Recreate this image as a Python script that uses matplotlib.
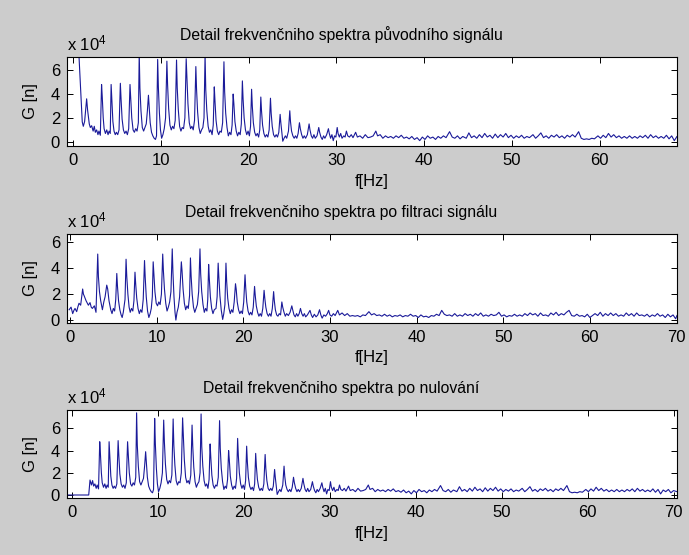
import numpy as np
import matplotlib
matplotlib.use("Agg")
import matplotlib.pyplot as plt

plt.rcParams['font.family'] = ['Liberation Sans', 'DejaVu Sans']
plt.rcParams['mathtext.fontset'] = 'custom'
plt.rcParams['mathtext.rm'] = 'Liberation Sans'
plt.rcParams['mathtext.default'] = 'regular'

# spectrum of the original signal, (f [Hz], G [x1e4])
orig_pts = [
    (-0.5, 30.0), (0.0, 28.0), (0.4, 12.0), (0.68, 7.3), (0.91, 3.9), (1.06, 1.67), (1.18, 1.3), (1.33, 1.7),
    (1.56, 3.6), (1.67, 2.65), (1.86, 1.5), (1.98, 1.2), (2.13, 1.35), (2.3, 0.9), (2.43, 1.3), (2.55, 0.8),
    (2.7, 1.0), (2.85, 0.6), (2.96, 0.9), (3.12, 0.55),
    (3.26, 4.8), (3.34, 3.75), (3.45, 2.0), (3.55, 1.1), (3.7, 0.7), (3.85, 1.0), (4.0, 0.6), (4.12, 0.9), (4.25, 0.7),
    (4.35, 4.8), (4.43, 3.6), (4.55, 1.7), (4.68, 0.9), (4.82, 0.6), (4.95, 0.8), (5.1, 0.6), (5.25, 1.0),
    (5.4, 4.9), (5.48, 3.6), (5.6, 1.9), (5.75, 1.0), (5.9, 0.7), (6.05, 0.9), (6.2, 0.6), (6.35, 1.1),
    (6.5, 4.8), (6.58, 3.7), (6.7, 2.0), (6.85, 1.0), (7.0, 0.8), (7.15, 1.1), (7.3, 0.9), (7.45, 1.6),
    (7.55, 7.4), (7.63, 4.5), (7.75, 2.6), (7.9, 1.2), (8.05, 0.9), (8.2, 1.2), (8.35, 1.5), (8.48, 2.6),
    (8.6, 3.9), (8.68, 3.0), (8.8, 1.6), (8.95, 0.8), (9.1, 0.5), (9.25, 0.3), (9.4, 0.2), (9.52, 0.5),
    (9.65, 6.9), (9.73, 4.6), (9.85, 2.4), (9.97, 1.0), (10.1, 0.3), (10.25, 0.6), (10.4, 1.1), (10.55, 2.0),
    (10.7, 6.75), (10.78, 4.8), (10.9, 2.8), (11.05, 1.4), (11.2, 1.0), (11.35, 1.3), (11.5, 1.1), (11.65, 1.8),
    (11.8, 6.85), (11.88, 4.5), (12.0, 2.7), (12.15, 1.3), (12.3, 0.9), (12.45, 1.2), (12.6, 1.1), (12.75, 2.0),
    (12.9, 6.95), (12.98, 5.5), (13.1, 3.2), (13.25, 1.6), (13.4, 1.1), (13.55, 1.3), (13.7, 1.0), (13.85, 1.8),
    (14.0, 6.3), (14.08, 4.4), (14.2, 2.5), (14.35, 1.2), (14.5, 0.7), (14.65, 1.0), (14.8, 1.2), (14.93, 2.0),
    (15.05, 7.3), (15.13, 4.35), (15.25, 2.6), (15.4, 1.3), (15.55, 0.8), (15.7, 1.0), (15.85, 0.6), (15.98, 1.4),
    (16.1, 4.6), (16.18, 3.4), (16.3, 1.8), (16.45, 0.9), (16.6, 0.6), (16.75, 0.9), (16.9, 0.8), (17.05, 1.6),
    (17.2, 6.7), (17.28, 4.2), (17.4, 2.4), (17.55, 1.2), (17.7, 0.5), (17.85, 0.8), (18.0, 0.6), (18.13, 1.4),
    (18.25, 4.0), (18.33, 3.2), (18.45, 1.7), (18.6, 0.9), (18.75, 0.5), (18.9, 0.8), (19.05, 0.6), (19.18, 1.5),
    (19.3, 5.1), (19.38, 3.6), (19.5, 2.0), (19.65, 1.0), (19.8, 0.6), (19.95, 0.9), (20.1, 0.5), (20.23, 1.3),
    (20.35, 4.4), (20.43, 3.0), (20.55, 1.6), (20.7, 0.8), (20.85, 0.5), (21.0, 0.7), (21.15, 0.4), (21.28, 1.0),
    (21.4, 3.75), (21.48, 2.6), (21.6, 1.4), (21.75, 0.7), (21.9, 0.4), (22.05, 0.6), (22.2, 0.4), (22.35, 1.0),
    (22.5, 3.65), (22.58, 2.4), (22.7, 1.3), (22.85, 0.6), (23.0, 0.4), (23.15, 0.6), (23.3, 0.4), (23.45, 0.8),
    (23.6, 2.3), (23.68, 1.6), (23.8, 0.8), (23.9, 0.05), (24.05, 0.3), (24.2, 0.5), (24.35, 0.3), (24.55, 0.9),
    (24.7, 2.6), (24.78, 1.7), (24.9, 0.9), (25.05, 0.5), (25.2, 0.3), (25.35, 0.5), (25.5, 0.3), (25.65, 0.7),
    (25.8, 1.6), (25.9, 1.1), (26.05, 0.6), (26.2, 0.3), (26.35, 0.5), (26.5, 0.3), (26.7, 0.6),
    (26.9, 1.5), (27.0, 1.0), (27.15, 0.5), (27.3, 0.3), (27.45, 0.6), (27.6, 0.3), (27.8, 0.5),
    (28.0, 1.2), (28.1, 0.8), (28.25, 0.4), (28.4, 0.2), (28.55, 0.5), (28.7, 0.3), (28.9, 0.6),
    (29.1, 1.1), (29.2, 0.7), (29.35, 0.3), (29.5, 0.6), (29.65, 0.1), (29.8, 0.5), (29.95, 0.4),
    (30.1, 1.2), (30.2, 0.7), (30.35, 0.4), (30.5, 0.7), (30.65, 0.3), (30.85, 0.5), (31.0, 0.4),
    (31.15, 0.9), (31.3, 0.5), (31.5, 0.4), (31.7, 0.6), (31.9, 0.35), (32.2, 0.8), (32.4, 0.4), (32.7, 0.5),
    (33.0, 0.3), (33.3, 0.6), (33.6, 0.35), (33.9, 0.4), (34.2, 0.5), (34.5, 0.9), (34.7, 0.5), (35.0, 0.6),
    (35.3, 0.3), (35.6, 0.5), (35.9, 0.35), (36.2, 0.45), (36.5, 0.3), (36.8, 0.5), (37.1, 0.35), (37.4, 0.55),
    (37.7, 0.3), (38.0, 0.4), (38.3, 0.25), (38.6, 0.45), (38.9, 0.2), (39.2, 0.35), (39.5, 0.1), (39.8, 0.4),
    (40.1, 0.2), (40.4, 0.5), (40.7, 0.3), (41.0, 0.4), (41.3, 0.2), (41.6, 0.45), (41.9, 0.3), (42.2, 0.5),
    (42.5, 0.35), (42.9, 0.85), (43.2, 0.4), (43.5, 0.3), (43.8, 0.5), (44.1, 0.25), (44.4, 0.45), (44.8, 0.3),
    (45.1, 0.75), (45.4, 0.35), (45.7, 0.5), (46.0, 0.3), (46.3, 0.6), (46.6, 0.35), (46.9, 0.7), (47.2, 0.4),
    (47.5, 0.55), (47.8, 0.3), (48.1, 0.65), (48.4, 0.35), (48.7, 0.6), (49.0, 0.4), (49.3, 0.7), (49.6, 0.35),
    (49.9, 0.55), (50.2, 0.3), (50.5, 0.5), (50.8, 0.35), (51.1, 0.55), (51.4, 0.3), (51.7, 0.45), (52.0, 0.35),
    (52.4, 0.6), (52.7, 0.3), (53.0, 0.5), (53.3, 0.75), (53.6, 0.35), (53.9, 0.5), (54.2, 0.3), (54.5, 0.55),
    (54.8, 0.4), (55.1, 0.6), (55.4, 0.35), (55.7, 0.5), (56.0, 0.3), (56.3, 0.55), (56.6, 0.4), (56.9, 0.6),
    (57.2, 0.4), (57.6, 0.85), (57.9, 0.3), (58.2, 0.2), (58.5, 0.25), (58.8, 0.2), (59.1, 0.3), (59.4, 0.25),
    (59.8, 0.5), (60.1, 0.3), (60.4, 0.55), (60.7, 0.35), (61.0, 0.7), (61.3, 0.4), (61.6, 0.6), (61.9, 0.35),
    (62.2, 0.5), (62.5, 0.3), (62.8, 0.45), (63.1, 0.3), (63.4, 0.5), (63.7, 0.3), (64.0, 0.45), (64.3, 0.3),
    (64.6, 0.5), (64.9, 0.35), (65.2, 0.55), (65.5, 0.3), (65.8, 0.6), (66.1, 0.35), (66.4, 0.5), (66.7, 0.3),
    (67.0, 0.45), (67.3, 0.3), (67.6, 0.55), (67.9, 0.25), (68.2, 0.5), (68.5, 0.1), (68.8, 0.45), (69.1, 0.3),
    (69.4, 0.5), (69.7, 0.2), (70.0, 0.4), (70.4, 0.3),
]

# spectrum after filtering
filt_pts = [
    (-0.1, 0.8), (0.12, 1.0), (0.31, 0.5), (0.45, 0.75), (0.58, 0.9), (0.77, 0.65), (0.9, 1.0), (1.04, 1.3),
    (1.23, 1.15), (1.46, 2.4), (1.55, 2.0), (1.62, 1.9), (1.85, 1.5), (2.0, 1.3), (2.12, 1.15), (2.31, 1.35),
    (2.45, 1.0), (2.58, 0.9), (2.81, 1.1), (3.0, 0.6),
    (3.2, 5.1), (3.28, 3.35), (3.4, 2.2), (3.54, 1.5), (3.74, 0.8), (3.9, 1.4), (4.05, 1.8),
    (4.24, 2.7), (4.35, 2.4), (4.5, 1.5), (4.7, 0.8), (4.85, 0.5), (5.0, 0.9), (5.15, 0.7), (5.28, 1.6),
    (5.4, 3.6), (5.48, 2.6), (5.6, 1.5), (5.75, 0.8), (5.9, 0.4), (6.02, 0.2), (6.15, 0.6), (6.35, 1.6),
    (6.47, 4.7), (6.55, 3.4), (6.68, 2.0), (6.82, 1.0), (6.95, 0.6), (7.1, 0.9), (7.25, 0.7), (7.38, 1.5),
    (7.5, 3.7), (7.58, 2.8), (7.7, 1.7), (7.85, 0.9), (8.0, 0.5), (8.15, 0.8), (8.3, 0.6), (8.45, 1.6),
    (8.6, 4.6), (8.68, 3.3), (8.8, 1.8), (8.95, 0.7), (9.1, 0.2), (9.25, 0.5), (9.38, 0.9), (9.5, 1.8),
    (9.6, 4.5), (9.68, 3.6), (9.8, 2.2), (9.95, 1.3), (10.1, 1.1), (10.25, 1.4), (10.4, 1.2), (10.55, 2.0),
    (10.7, 5.1), (10.78, 3.8), (10.9, 2.4), (11.05, 1.3), (11.2, 0.7), (11.35, 1.0), (11.5, 1.4), (11.65, 2.2),
    (11.8, 5.5), (11.88, 3.7), (12.0, 1.8), (12.12, 0.6), (12.22, 0.0), (12.35, 0.6), (12.5, 1.0), (12.65, 1.8),
    (12.85, 4.5), (12.93, 3.8), (13.05, 2.4), (13.2, 1.3), (13.35, 0.8), (13.5, 1.1), (13.65, 0.9), (13.8, 1.9),
    (13.9, 4.8), (13.98, 3.4), (14.1, 2.0), (14.25, 1.0), (14.4, 0.6), (14.55, 0.9), (14.7, 1.2), (14.85, 2.2),
    (15.0, 5.5), (15.08, 3.6), (15.2, 2.2), (15.35, 1.2), (15.5, 0.6), (15.65, 0.9), (15.8, 0.7), (15.9, 1.6),
    (16.0, 4.3), (16.08, 3.2), (16.2, 1.8), (16.35, 0.9), (16.5, 0.5), (16.65, 0.8), (16.85, 0.9), (16.98, 1.8),
    (17.1, 4.4), (17.18, 3.3), (17.3, 1.9), (17.45, 0.8), (17.62, 0.05), (17.75, 0.5), (17.88, 1.2),
    (18.0, 4.4), (18.08, 3.0), (18.2, 1.7), (18.35, 0.9), (18.5, 0.5), (18.65, 0.8), (18.8, 0.6), (18.95, 1.4),
    (19.1, 2.8), (19.18, 2.4), (19.3, 1.4), (19.45, 0.8), (19.6, 0.5), (19.75, 0.7), (19.9, 0.5), (20.05, 1.4),
    (20.2, 3.5), (20.28, 2.5), (20.4, 1.4), (20.55, 0.7), (20.7, 0.4), (20.85, 0.6), (21.0, 0.4), (21.15, 1.0),
    (21.3, 2.6), (21.38, 1.9), (21.5, 1.1), (21.65, 0.6), (21.8, 0.3), (21.95, 0.5), (22.1, 0.3), (22.25, 0.9),
    (22.4, 2.3), (22.48, 1.7), (22.6, 1.0), (22.75, 0.5), (22.9, 0.3), (23.05, 0.5), (23.2, 0.3), (23.35, 0.9),
    (23.5, 2.2), (23.58, 1.5), (23.7, 0.8), (23.85, 0.4), (24.0, 0.3), (24.15, 0.5), (24.3, 0.4),
    (24.45, 1.4), (24.55, 1.0), (24.7, 0.6), (24.85, 0.3), (25.0, 0.5), (25.2, 0.35), (25.4, 0.6),
    (25.6, 1.1), (25.7, 0.8), (25.85, 0.4), (26.0, 0.25), (26.15, 0.5), (26.3, 0.3), (26.45, 0.5),
    (26.6, 0.9), (26.75, 0.5), (26.9, 0.3), (27.05, 0.5), (27.2, 0.25), (27.4, 0.4),
    (27.7, 0.75), (27.85, 0.4), (28.0, 0.2), (28.2, 0.45), (28.4, 0.25), (28.6, 0.4), (28.8, 0.8), (28.95, 0.4),
    (29.1, 0.15), (29.3, 0.4), (29.5, 0.3), (29.7, 0.5), (29.85, 0.75), (30.0, 0.4), (30.2, 0.3), (30.4, 0.5),
    (30.6, 0.35), (30.9, 0.75), (31.1, 0.4), (31.4, 0.55), (31.7, 0.35), (32.0, 0.5), (32.3, 0.3), (32.6, 0.35),
    (32.9, 0.3), (33.2, 0.35), (33.5, 0.25), (33.8, 0.4), (34.1, 0.35), (34.5, 0.65), (34.8, 0.4), (35.1, 0.5),
    (35.4, 0.35), (35.7, 0.4), (36.0, 0.3), (36.3, 0.45), (36.6, 0.3), (36.9, 0.4), (37.2, 0.25), (37.5, 0.35),
    (37.8, 0.3), (38.1, 0.4), (38.4, 0.25), (38.7, 0.35), (39.0, 0.3), (39.3, 0.45), (39.6, 0.3), (39.9, 0.35),
    (40.2, 0.2), (40.5, 0.4), (40.8, 0.25), (41.1, 0.3), (41.4, 0.2), (41.7, 0.35), (42.0, 0.3), (42.3, 0.45),
    (42.6, 0.35), (42.9, 0.75), (43.2, 0.45), (43.5, 0.35), (43.8, 0.4), (44.1, 0.3), (44.4, 0.5), (44.7, 0.3),
    (45.0, 0.4), (45.3, 0.3), (45.6, 0.5), (45.9, 0.35), (46.2, 0.45), (46.5, 0.3), (46.8, 0.5), (47.1, 0.35),
    (47.4, 0.55), (47.7, 0.3), (48.0, 0.4), (48.3, 0.3), (48.6, 0.45), (48.9, 0.35), (49.2, 0.4), (49.5, 0.6),
    (49.8, 0.3), (50.1, 0.4), (50.4, 0.25), (50.7, 0.35), (51.0, 0.3), (51.3, 0.45), (51.6, 0.3), (51.9, 0.4),
    (52.2, 0.3), (52.5, 0.5), (52.8, 0.35), (53.1, 0.55), (53.4, 0.4), (53.7, 0.5), (54.0, 0.3), (54.3, 0.55),
    (54.6, 0.35), (54.9, 0.4), (55.2, 0.3), (55.5, 0.55), (55.8, 0.4), (56.1, 0.6), (56.4, 0.35), (56.7, 0.5),
    (57.0, 0.4), (57.3, 0.6), (57.6, 0.75), (57.9, 0.35), (58.2, 0.3), (58.5, 0.45), (58.8, 0.3), (59.1, 0.35),
    (59.4, 0.25), (59.7, 0.45), (60.0, 0.2), (60.3, 0.35), (60.6, 0.5), (60.9, 0.35), (61.2, 0.6), (61.5, 0.3),
    (61.8, 0.5), (62.1, 0.35), (62.4, 0.55), (62.7, 0.35), (63.0, 0.5), (63.3, 0.3), (63.6, 0.4), (63.9, 0.3),
    (64.2, 0.55), (64.5, 0.35), (64.8, 0.5), (65.1, 0.3), (65.4, 0.55), (65.7, 0.35), (66.0, 0.4), (66.3, 0.3),
    (66.6, 0.45), (66.9, 0.25), (67.2, 0.4), (67.5, 0.3), (67.8, 0.5), (68.1, 0.3), (68.4, 0.4), (68.7, 0.2),
    (69.0, 0.45), (69.3, 0.25), (69.6, 0.4), (69.9, 0.1), (70.05, 0.35),
]

# below this frequency the spectrum was set to zero ("nulovani")
f_zero = 2.0

titles = ['Detail frekvenčniho spektra původního signálu',
          'Detail frekvenčniho spektra po filtraci signálu',
          'Detail frekvenčniho spektra po nulování']
xticks = [0, 10, 20, 30, 40, 50, 60, 70]
yticks = [0, 2, 4, 6]

orig = np.array(orig_pts)
filt = np.array(filt_pts)
nul = orig.copy()
nul[nul[:, 0] < f_zero, 1] = 0.0

series = [orig, filt, nul]
xlims = [(-0.68, 68.8), (-0.35, 70.05), (-0.55, 70.4)]
ylims = [(-0.35, 7.1), (-0.2, 6.65), (-0.27, 7.66)]
boxes = [[0.0972, 0.7369, 0.8853, 0.1604],
         [0.0972, 0.4186, 0.8853, 0.1598],
         [0.0972, 0.1027, 0.8853, 0.1586]]

bg = '#cccccc'
fs = 12

fig = plt.figure(figsize=(6.89, 5.55), dpi=100)
fig.patch.set_facecolor(bg)

for i in range(3):
    ax = fig.add_axes(boxes[i])
    ax.set_facecolor('white')
    ax.plot(series[i][:, 0], series[i][:, 1], color='#1a1a99', lw=0.8)
    ax.set_xticks(xticks)
    ax.set_yticks(yticks)
    # limits after the ticks, otherwise the ticks widen the view
    ax.set_xlim(xlims[i])
    ax.set_ylim(ylims[i])
    ax.tick_params(direction='in', length=4.5, width=0.7, top=True, right=True,
                   labelsize=fs, pad=5, colors='black')
    for s in ax.spines.values():
        s.set_linewidth(0.8)
        s.set_color('black')
    ax.set_title(titles[i], fontsize=11.3, x=0.45, pad=12)
    ax.set_xlabel('f[Hz]', fontsize=fs, labelpad=4)
    ax.set_ylabel('G [n]', fontsize=fs, labelpad=9)
    ax.text(0.0, 1.04, r'x 10$^{4}$', transform=ax.transAxes, fontsize=fs,
            ha='left', va='bottom')

fig.savefig('out.png', dpi=100, facecolor=bg)
